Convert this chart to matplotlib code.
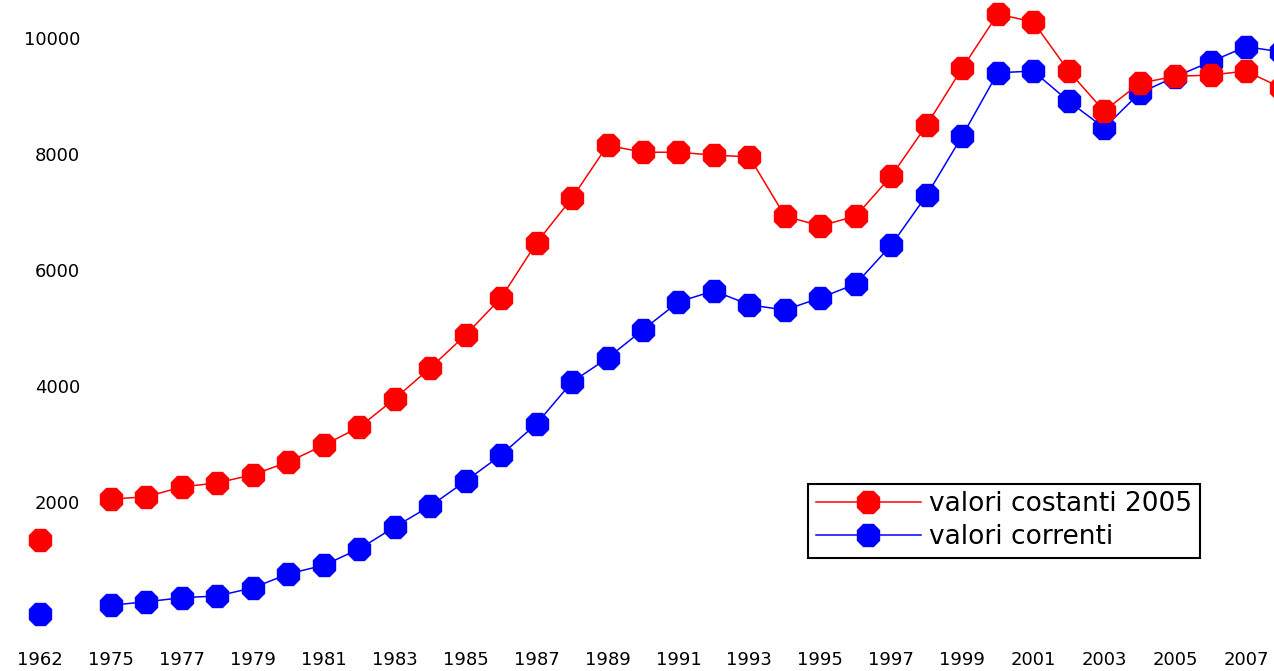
import matplotlib
matplotlib.use("Agg")
import matplotlib.pyplot as plt
import numpy as np

# categories: 1962, an empty slot, then 1975-2008
years = ["1962", ""] + [str(y) for y in range(1975, 2009)]

costanti_2005 = [
    1350, np.nan,
    2050, 2090, 2260, 2330, 2470, 2690, 2980, 3290, 3780, 4310,
    4880, 5520, 6470, 7240, 8150, 8030, 8030, 7980, 7950, 6930,
    6760, 6930, 7620, 8500, 9480, 10410, 10280, 9430, 8740, 9220,
    9340, 9360, 9430, 9140,
]
correnti = [
    70, np.nan,
    220, 280, 350, 380, 520, 760, 910, 1190, 1570, 1930,
    2360, 2810, 3350, 4070, 4480, 4970, 5450, 5640, 5400, 5310,
    5520, 5760, 6430, 7290, 8310, 9400, 9430, 8910, 8450, 9050,
    9330, 9590, 9850, 9760,
]
yticks = [2000, 4000, 6000, 8000, 10000]

x = np.arange(len(years))

fig = plt.figure(figsize=(12.74, 6.71), dpi=100)
ax = fig.add_axes([0, 28 / 671, 1, 643 / 671])

ax.plot(x, correnti, color="#0000ff", lw=1.1, marker="8", ms=17,
        mec="#0000ff", mfc="#0000ff", label="valori correnti", zorder=2)
ax.plot(x, costanti_2005, color="#ff0000", lw=1.1, marker="8", ms=17,
        mec="#ff0000", mfc="#ff0000", label="valori costanti 2005", zorder=3)

ax.set_xlim(-1.128, 34.79)
ax.set_ylim(-431, 10655)

ax.set_xticks(x[::2])
ax.set_xticklabels(years[::2])
ax.set_yticks(yticks)
ax.set_yticklabels([str(v) for v in yticks])

ax.tick_params(axis="both", length=0, labelsize=13, colors="#000000")
ax.tick_params(axis="y", pad=-57.6)
ax.tick_params(axis="x", pad=6)
for s in ax.spines.values():
    s.set_visible(False)

handles, labels = ax.get_legend_handles_labels()
leg = ax.legend(handles[::-1], labels[::-1], loc="lower right",
                bbox_to_anchor=(1200 / 1274, 85 / 643), fontsize=19,
                frameon=True, fancybox=False, shadow=False, framealpha=1,
                edgecolor="black", borderaxespad=0, borderpad=0.3,
                handlelength=4.0, handletextpad=0.3, labelspacing=0.25)
leg.get_frame().set_linewidth(1.5)

fig.savefig("out.png", dpi=100)
